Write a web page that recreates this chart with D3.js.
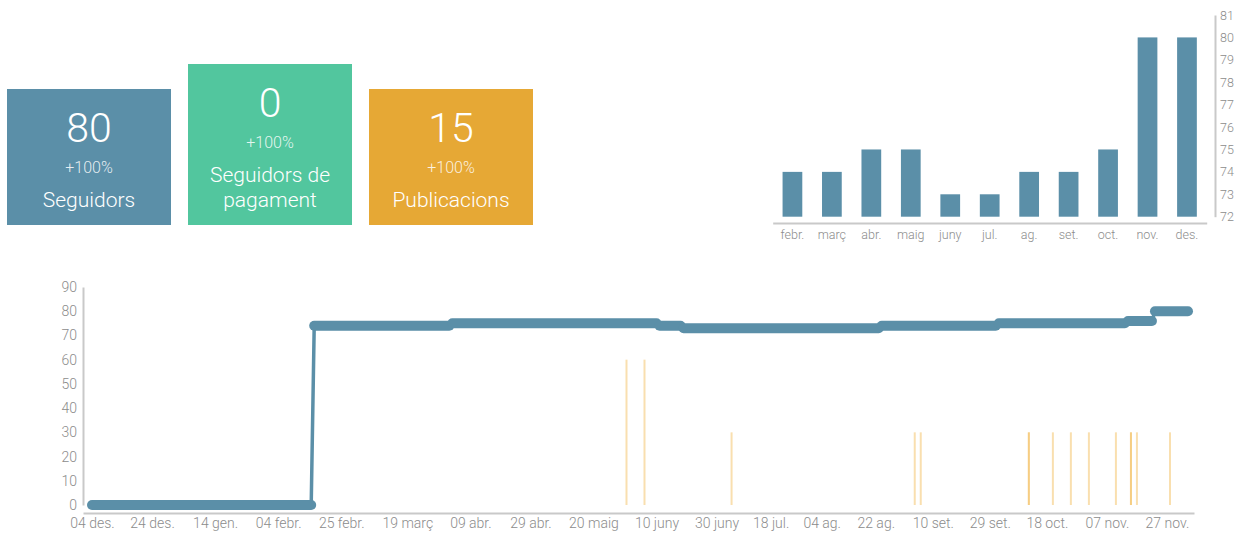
<!DOCTYPE html>
<html>
<head>
<meta charset="utf-8">
<script src="https://cdn.jsdelivr.net/npm/d3@7"></script>
<style>
  body { margin: 0; background: #fff; }
  text { font-family: Roboto, 'Liberation Sans', sans-serif; font-weight: 300; }
</style>
</head>
<body>
<script>
// Summary boxes
const boxValues = ['80', '0', '15'];
const boxChanges = ['+100%', '+100%', '+100%'];
const boxLabels = [['Seguidors'], ['Seguidors de', 'pagament'], ['Publicacions']];
const boxColors = ['#5b8fa8', '#52c69e', '#e6a835'];

// Monthly followers (bar chart)
const months = ['febr.', 'març', 'abr.', 'maig', 'juny', 'jul.', 'ag.', 'set.', 'oct.', 'nov.', 'des.'];
const monthlyFollowers = [74, 74, 75, 75, 73, 73, 74, 74, 75, 80, 80];
const monthTicks = [72, 73, 74, 75, 76, 77, 78, 79, 80, 81];

// Followers over time: dates where the count changes
const changeDates = ['2018-12-04', '2019-02-16', '2019-04-03', '2019-06-11', '2019-06-19',
  '2019-08-24', '2019-10-02', '2019-11-14', '2019-11-23', '2019-12-04'];
const changeValues = [0, 74, 75, 74, 73, 74, 75, 76, 80, 80];

// Publications
const postDates = ['2019-05-31', '2019-06-06', '2019-07-05', '2019-09-04', '2019-09-06',
  '2019-10-12', '2019-10-12', '2019-10-20', '2019-10-26', '2019-11-01',
  '2019-11-10', '2019-11-15', '2019-11-15', '2019-11-17', '2019-11-28'];
const postValues = [60, 60, 30, 30, 30, 30, 30, 30, 30, 30, 30, 30, 30, 30, 30];

// Axis ticks for the time chart
const dateTicks = ['2018-12-04', '2018-12-24', '2019-01-14', '2019-02-04', '2019-02-25',
  '2019-03-19', '2019-04-09', '2019-04-29', '2019-05-20', '2019-06-10', '2019-06-30',
  '2019-07-18', '2019-08-04', '2019-08-22', '2019-09-10', '2019-09-29', '2019-10-18',
  '2019-11-07', '2019-11-27'];
const dateTickLabels = ['04 des.', '24 des.', '14 gen.', '04 febr.', '25 febr.', '19 març',
  '09 abr.', '29 abr.', '20 maig', '10 juny', '30 juny', '18 jul.', '04 ag.', '22 ag.',
  '10 set.', '29 set.', '18 oct.', '07 nov.', '27 nov.'];
const valueTicks = [0, 10, 20, 30, 40, 50, 60, 70, 80, 90];

const parse = d3.timeParse('%Y-%m-%d');
const axisColor = '#c9c9c9';
const textColor = '#8c8c8c';
const blue = '#5b8fa8';

const svg = d3.select('body').append('svg').attr('width', 1248).attr('height', 535);

// ---- Boxes ----
const boxes = svg.selectAll('.box')
  .data(boxValues.map((v, i) => ({ value: v, change: boxChanges[i], label: boxLabels[i], color: boxColors[i] })))
  .enter()
  .append('g')
  .attr('class', 'box')
  .attr('transform', (d, i) => {
    const h = 136 + 25 * (d.label.length - 1);
    return `translate(${7 + i * 181},${225 - h})`;
  });

boxes.append('rect')
  .attr('width', 164)
  .attr('height', (d) => 136 + 25 * (d.label.length - 1))
  .attr('fill', (d) => d.color);

boxes.append('text')
  .attr('x', 82).attr('y', 53)
  .attr('text-anchor', 'middle')
  .attr('font-size', '41px')
  .attr('fill', '#fff')
  .text((d) => d.value);

boxes.append('text')
  .attr('x', 82).attr('y', 84)
  .attr('text-anchor', 'middle')
  .attr('font-size', '16px')
  .attr('fill', 'rgba(255,255,255,0.85)')
  .text((d) => d.change);

boxes.each(function (d) {
  d3.select(this).selectAll('.label')
    .data(d.label)
    .enter()
    .append('text')
    .attr('class', 'label')
    .attr('x', 82)
    .attr('y', (l, j) => 118 + 25 * j)
    .attr('text-anchor', 'middle')
    .attr('font-size', '21px')
    .attr('fill', '#fff')
    .text((l) => l);
});

// ---- Bar chart ----
const bx = d3.scaleBand().domain(months).range([772.7, 1206.7]).paddingInner(0.5).paddingOuter(0.25);
const by = d3.scaleLinear().domain([72, 81]).range([216.7, 15]);

svg.selectAll('.bar')
  .data(monthlyFollowers)
  .enter()
  .append('rect')
  .attr('class', 'bar')
  .attr('x', (d, i) => bx(months[i]))
  .attr('width', bx.bandwidth())
  .attr('y', (d) => by(d))
  .attr('height', (d) => by(72) - by(d))
  .attr('fill', blue);

const barXAxis = svg.append('g')
  .attr('transform', 'translate(0,223)')
  .call(d3.axisBottom(bx).tickSize(0).tickPadding(7));
barXAxis.select('.domain').attr('stroke', axisColor).attr('stroke-width', 2);
barXAxis.selectAll('text').attr('font-size', '12.5px').attr('fill', textColor);

const barYAxis = svg.append('g')
  .attr('transform', 'translate(1215,0)')
  .call(d3.axisRight(by).tickValues(monthTicks).tickSize(0).tickPadding(5));
barYAxis.select('.domain').attr('stroke', axisColor).attr('stroke-width', 2);
barYAxis.selectAll('text').attr('font-size', '12.5px').attr('fill', textColor);

// ---- Time chart ----
const x = d3.scaleTime().domain([parse('2018-12-01'), parse('2019-12-06')]).range([83, 1194]);
const y = d3.scaleLinear().domain([0, 90]).range([505, 287]);

const yAxis = svg.append('g')
  .attr('transform', 'translate(83,0)')
  .call(d3.axisLeft(y).tickValues(valueTicks).tickSize(0).tickPadding(6));
yAxis.select('.domain').attr('stroke', axisColor).attr('stroke-width', 2);
yAxis.selectAll('text').attr('font-size', '14px').attr('fill', textColor);

const xAxis = svg.append('g')
  .attr('transform', 'translate(0,513)')
  .call(d3.axisBottom(x)
    .tickValues(dateTicks.map(parse))
    .tickFormat((d, i) => dateTickLabels[i])
    .tickSize(0).tickPadding(5));
xAxis.select('.domain').attr('stroke', axisColor).attr('stroke-width', 2);
xAxis.selectAll('text').attr('font-size', '14px').attr('fill', textColor);

// publications
svg.selectAll('.post')
  .data(postDates)
  .enter()
  .append('line')
  .attr('class', 'post')
  .attr('x1', (d) => x(parse(d)))
  .attr('x2', (d) => x(parse(d)))
  .attr('y1', y(0))
  .attr('y2', (d, i) => y(postValues[i]))
  .attr('stroke', '#f2b84d')
  .attr('stroke-opacity', 0.45)
  .attr('stroke-width', 2);

// followers: runs of constant value
const runs = changeDates.slice(0, -1).map((d, i) => {
  const next = parse(changeDates[i + 1]);
  const end = i + 1 < changeDates.length - 1 ? d3.timeDay.offset(next, -1) : next;
  return [[parse(d), changeValues[i]], [end, changeValues[i]]];
});

const line = d3.line().x((p) => x(p[0])).y((p) => y(p[1]));

svg.append('path')
  .attr('d', line(runs.flat()))
  .attr('fill', 'none')
  .attr('stroke', blue)
  .attr('stroke-width', 3.5);

svg.selectAll('.run')
  .data(runs)
  .enter()
  .append('path')
  .attr('class', 'run')
  .attr('d', line)
  .attr('fill', 'none')
  .attr('stroke', blue)
  .attr('stroke-width', 10)
  .attr('stroke-linecap', 'round');
</script>
</body>
</html>
